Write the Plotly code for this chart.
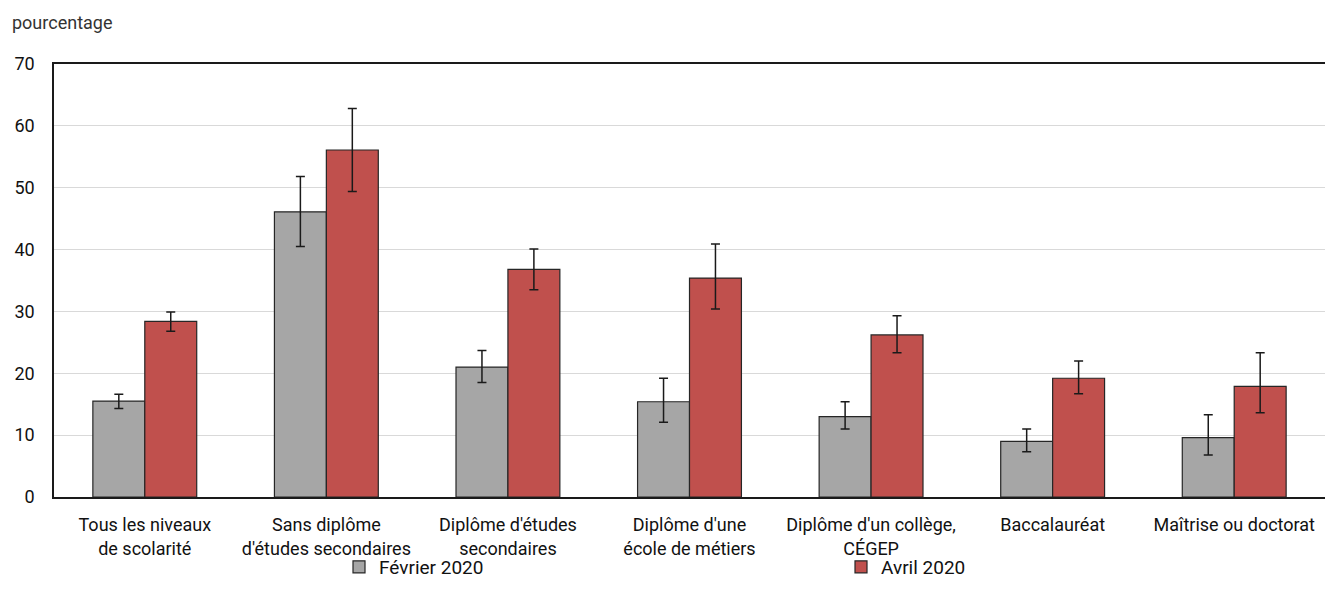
import plotly.graph_objects as go

categories = [
    "Tous les niveaux<br>de scolarité",
    "Sans diplôme<br>d'études secondaires",
    "Diplôme d'études<br>secondaires",
    "Diplôme d'une<br>école de métiers",
    "Diplôme d'un collège,<br>CÉGEP",
    "Baccalauréat",
    "Maîtrise ou doctorat",
]

feb_values = [15.5, 46.1, 21.0, 15.4, 13.0, 9.0, 9.6]
feb_upper = [16.6, 51.8, 23.7, 19.2, 15.4, 11.0, 13.3]
feb_lower = [14.3, 40.5, 18.5, 12.1, 11.0, 7.3, 6.8]

apr_values = [28.4, 56.1, 36.8, 35.4, 26.2, 19.2, 17.9]
apr_upper = [29.9, 62.8, 40.1, 40.9, 29.3, 22.0, 23.3]
apr_lower = [26.8, 49.4, 33.5, 30.4, 23.3, 16.7, 13.6]

y_ticks = [0, 10, 20, 30, 40, 50, 60, 70]

FONT = "Roboto, Liberation Sans, sans-serif"
TXT = "#111111"

def err(vals, up, lo):
    return dict(
        type="data", symmetric=False,
        array=[u - v for u, v in zip(up, vals)],
        arrayminus=[v - l for v, l in zip(vals, lo)],
        color="#1a1a1a", thickness=1.5, width=4.5,
    )

fig = go.Figure()
fig.add_trace(go.Bar(
    x=categories, y=feb_values, name="Février 2020",
    marker=dict(color="#A6A6A6", line=dict(color="#262626", width=1.2)),
    error_y=err(feb_values, feb_upper, feb_lower),
))
fig.add_trace(go.Bar(
    x=categories, y=apr_values, name="Avril 2020",
    marker=dict(color="#C0504D", line=dict(color="#262626", width=1.2)),
    error_y=err(apr_values, apr_upper, apr_lower),
))

fig.update_layout(
    width=1325, height=603,
    margin=dict(l=54, r=0, t=64, b=106, autoexpand=False),
    paper_bgcolor="white", plot_bgcolor="white",
    barmode="group", bargap=0.428, bargroupgap=0,
    font=dict(family=FONT, size=18, color=TXT),
    showlegend=True,
    legend=dict(
        orientation="h", xref="container", yref="container",
        x=339 / 1325, xanchor="left", y=1 - 567 / 603, yanchor="middle",
        entrywidth=457, entrywidthmode="pixels",
        bgcolor="rgba(0,0,0,0)", borderwidth=0,
        font=dict(family=FONT, size=19, color=TXT),
        itemwidth=30, traceorder="normal",
    ),
    xaxis=dict(
        range=[-0.5, 6.5], showline=True, linecolor="#1a1a1a", linewidth=1.5,
        mirror=True, ticks="", showgrid=False, ticklabelstandoff=11,
        tickfont=dict(family=FONT, size=18, color=TXT),
    ),
    yaxis=dict(
        range=[0, 70], tickvals=y_ticks, showline=True, linecolor="#1a1a1a",
        linewidth=1.5, showgrid=True, gridcolor="#d9d9d9", gridwidth=1,
        ticks="", ticklabelstandoff=14, zeroline=False,
        tickfont=dict(family=FONT, size=18, color=TXT),
    ),
    annotations=[dict(
        text="pourcentage", xref="paper", yref="paper",
        x=-44 / 1271, y=(497 - 22) / 433, xanchor="left", yanchor="middle",
        showarrow=False, font=dict(family=FONT, size=18, color="#333333"),
    )],
)

fig.write_html(
    "out.html",
    config={"displayModeBar": False},
    post_script="document.body.style.margin='0';document.body.style.overflow='hidden';",
)
